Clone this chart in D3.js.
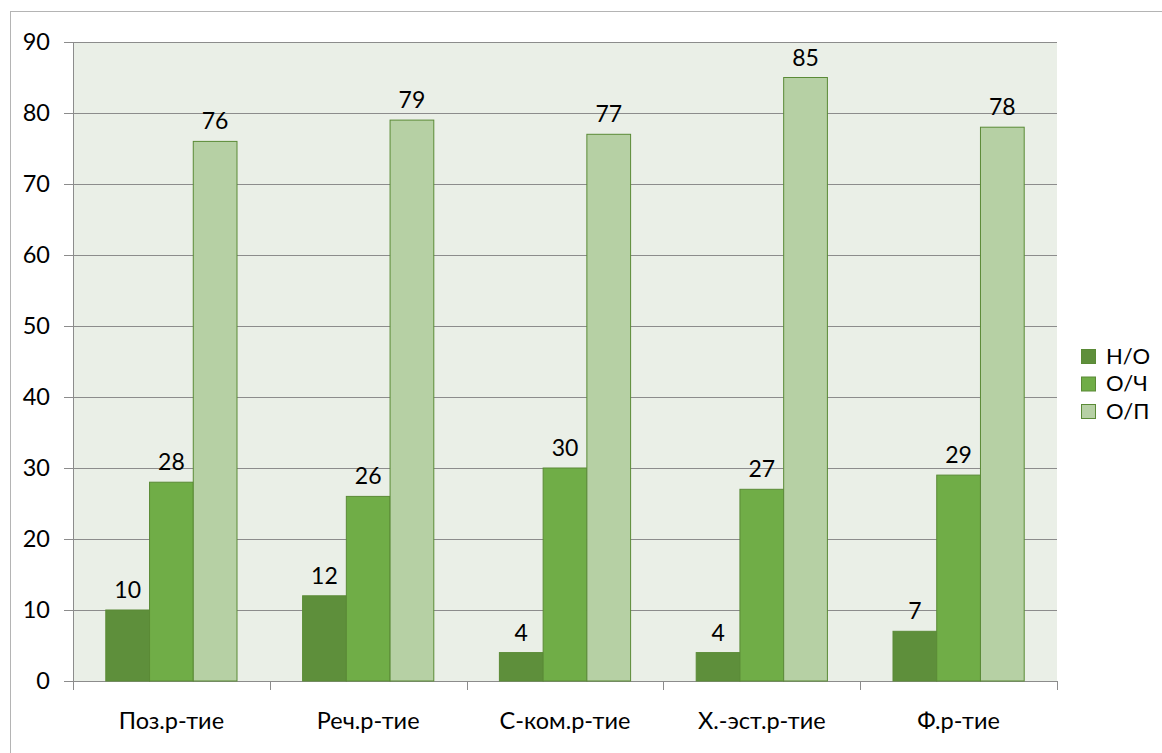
<!DOCTYPE html>
<html>
<head>
<meta charset="utf-8">
<script src="https://cdn.jsdelivr.net/npm/d3@7.9.0/dist/d3.min.js"></script>
<style>
  body { margin: 0; background: #fff; }
  svg text { font-family: Lato, "Open Sans", sans-serif; fill: #000; }
</style>
</head>
<body>
<svg id="chart" width="1162" height="753"></svg>
<script>
const categories = ["Поз.р-тие", "Реч.р-тие", "С-ком.р-тие", "Х.-эст.р-тие", "Ф.р-тие"];
const seriesNames = ["Н/О", "О/Ч", "О/П"];
const seriesNO = [10, 12, 4, 4, 7];
const seriesOCh = [28, 26, 30, 27, 29];
const seriesOP = [76, 79, 77, 85, 78];
const yTicks = [0, 10, 20, 30, 40, 50, 60, 70, 80, 90];
const colors = ["#5e8f3b", "#70ad47", "#b6d0a4"];

const seriesValues = [seriesNO, seriesOCh, seriesOP];
const svg = d3.select('#chart');

// chart frame
svg.append('rect')
    .attr('x', 10.5).attr('y', 11.5)
    .attr('width', 1200).attr('height', 800)
    .attr('fill', 'none').attr('stroke', '#b4b4b4');

const plotLeft = 73, plotRight = 1057, plotTop = 42, plotBottom = 681;

let x = d3.scaleBand().domain(categories).range([plotLeft, plotRight]);
let y = d3.scaleLinear().domain([0, 90]).range([plotBottom, plotTop]);

svg.append('rect')
    .attr('x', plotLeft).attr('y', plotTop)
    .attr('width', plotRight - plotLeft).attr('height', plotBottom - plotTop)
    .attr('fill', '#eaefe7');

// gridlines
svg.append('g')
    .selectAll('line')
    .data(yTicks)
    .join('line')
    .attr('x1', plotLeft - 9).attr('x2', plotRight)
    .attr('y1', d => Math.round(y(d)) + 0.5).attr('y2', d => Math.round(y(d)) + 0.5)
    .attr('stroke', '#8c8c8c').attr('stroke-width', 1);

// y axis line
svg.append('line')
    .attr('x1', plotLeft + 0.5).attr('x2', plotLeft + 0.5)
    .attr('y1', plotTop).attr('y2', plotBottom)
    .attr('stroke', '#8c8c8c');

// y labels
svg.append('g')
    .selectAll('text')
    .data(yTicks)
    .join('text')
    .attr('x', 50)
    .attr('y', d => y(d))
    .attr('dy', '0.36em')
    .attr('text-anchor', 'end')
    .attr('font-size', 23.5)
    .text(d => d);

// x axis ticks
let tickPositions = categories.map(c => x(c)).concat([plotRight]);
svg.append('g')
    .selectAll('line')
    .data(tickPositions)
    .join('line')
    .attr('x1', d => Math.round(d) + 0.5).attr('x2', d => Math.round(d) + 0.5)
    .attr('y1', plotBottom).attr('y2', plotBottom + 9)
    .attr('stroke', '#8c8c8c');

// x labels
svg.append('g')
    .selectAll('text')
    .data(categories)
    .join('text')
    .attr('x', d => x(d) + x.bandwidth() / 2)
    .attr('y', 729)
    .attr('text-anchor', 'middle')
    .attr('font-size', 23.5)
    .text(d => d);

// bars
let barW = x.bandwidth() / 4.5;
let inner = d3.scaleBand().domain(seriesNames).range([0, barW * 3]);

seriesNames.forEach((name, si) => {
    let g = svg.append('g');
    categories.forEach((cat, ci) => {
        let v = seriesValues[si][ci];
        let bx = x(cat) + barW * 0.75 + inner(name);
        g.append('rect')
            .attr('x', bx)
            .attr('y', y(v))
            .attr('width', inner.bandwidth())
            .attr('height', y(0) - y(v))
            .attr('fill', colors[si])
            .attr('stroke', '#5a8a36')
            .attr('stroke-width', 1);
        g.append('text')
            .attr('x', bx + inner.bandwidth() / 2)
            .attr('y', y(v) - 12)
            .attr('text-anchor', 'middle')
            .attr('font-size', 23)
            .text(v);
    });
});

// legend
let legend = svg.append('g');
seriesNames.forEach((name, i) => {
    let ly = 356 + i * 27.5;
    legend.append('rect')
        .attr('x', 1081.5).attr('y', ly - 6.5)
        .attr('width', 14).attr('height', 14)
        .attr('fill', colors[i])
        .attr('stroke', '#5a8a36');
    legend.append('text')
        .attr('x', 1106)
        .attr('y', ly)
        .attr('dy', '0.36em')
        .attr('font-size', 22)
        .text(name);
});
</script>
</body>
</html>
